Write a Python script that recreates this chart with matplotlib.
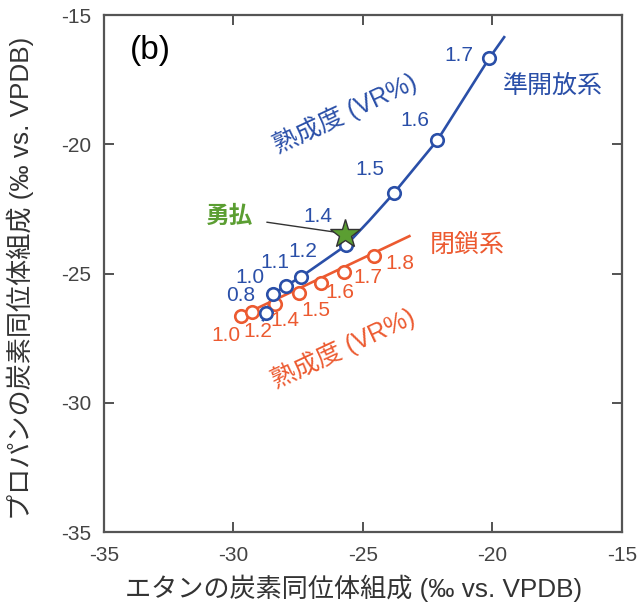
import numpy as np
import matplotlib.pyplot as plt

plt.rcParams['font.family'] = ['Liberation Sans', 'Noto Sans CJK JP', 'DejaVu Sans']
plt.rcParams['axes.unicode_minus'] = False

BLUE = '#2a4fa8'
ORANGE = '#ec5a30'
GREEN = '#5b9e32'

# semi-open system (準開放系)
semi_vr = ['0.8', '1.0', '1.1', '1.2', '1.4', '1.5', '1.6', '1.7']
semi_x = [-28.73, -28.46, -27.96, -27.38, -25.65, -23.81, -22.12, -20.12]
semi_y = [-26.51, -25.78, -25.47, -25.12, -23.91, -21.90, -19.84, -16.67]
# curve drawn through the points, with its ends beyond the first and last point
semi_line_x = [-28.85, -28.73, -28.46, -27.96, -27.38, -25.65, -24.75, -23.81, -22.12, -20.12, -19.54]
semi_line_y = [-26.80, -26.51, -25.78, -25.47, -25.12, -23.91, -22.95, -21.90, -19.84, -16.67, -15.85]

# closed system (閉鎖系)
closed_vr = ['1.0', '1.2', '1.4', '1.5', '1.6', '1.7', '1.8']
closed_x = [-29.69, -29.27, -28.38, -27.46, -26.62, -25.73, -24.58]
closed_y = [-26.63, -26.47, -26.16, -25.74, -25.35, -24.92, -24.30]
closed_line_x = [-29.69, -23.20]
closed_line_y = [-26.63, -23.55]

# Yufutsu gas (勇払)
yufutsu_x = [-25.69]
yufutsu_y = [-23.45]

# label offsets in points (dx, dy)
semi_off = [(-18, 12), (-17, 12), (-8, 17), (1, 18), (-20, 21), (-17, 17), (-16, 14), (-22, 2)]
closed_off = [(-11, -14), (4, -14), (7, -12), (12, -13), (14, -7), (17, -4), (19, -6)]

fig = plt.figure(figsize=(6.37, 6.08), dpi=100)
ax = fig.add_axes([0.163, 0.125, 0.813, 0.850])

ax.plot(semi_line_x, semi_line_y, color=BLUE, lw=1.9, zorder=2)
ax.plot(semi_x, semi_y, 'o', ms=9, mfc='white', mec=BLUE, mew=1.9, zorder=3)
ax.plot(closed_line_x, closed_line_y, color=ORANGE, lw=1.9, zorder=1)
ax.plot(closed_x, closed_y, 'o', ms=9, mfc='white', mec=ORANGE, mew=1.9, zorder=2)
ax.plot(yufutsu_x, yufutsu_y, '*', ms=22, mfc=GREEN, mec='#333333', mew=1.0, zorder=5)

for lab, x, y, off in zip(semi_vr, semi_x, semi_y, semi_off):
    ax.annotate(lab, (x, y), xytext=off, textcoords='offset points',
                color=BLUE, fontsize=15, ha='center', va='center')
for lab, x, y, off in zip(closed_vr, closed_x, closed_y, closed_off):
    ax.annotate(lab, (x, y), xytext=off, textcoords='offset points',
                color=ORANGE, fontsize=15, ha='center', va='center')

ax.annotate('勇払', (yufutsu_x[0], yufutsu_y[0]), xytext=(-30.15, -22.8),
            color=GREEN, fontsize=17, fontweight='bold', ha='center', va='center',
            arrowprops=dict(arrowstyle='-', color='#333333', lw=1.0, shrinkA=8, shrinkB=6))

ax.text(-25.7, -18.8, '熟成度 (VR%)', color=BLUE, fontsize=18, rotation=25,
        ha='center', va='center')
ax.text(-25.75, -27.9, '熟成度 (VR%)', color=ORANGE, fontsize=18, rotation=25,
        ha='center', va='center')
ax.text(-17.7, -17.75, '準開放系', color=BLUE, fontsize=18, ha='center', va='center')
ax.text(-20.96, -23.9, '閉鎖系', color=ORANGE, fontsize=18, ha='center', va='center')
ax.text(-33.2, -16.35, '(b)', fontsize=24, ha='center', va='center')

ax.set_xlim(-35, -15)
ax.set_ylim(-35, -15)
ax.set_xticks([-35, -30, -25, -20, -15])
ax.set_yticks([-35, -30, -25, -20, -15])
ax.tick_params(direction='in', top=True, right=True, length=7, width=1.3,
               labelsize=15, colors='#444444')
ax.tick_params(axis='x', pad=10)
ax.tick_params(axis='y', pad=9)
for s in ax.spines.values():
    s.set_linewidth(1.6)
    s.set_color('#555555')

ax.set_xlabel('エタンの炭素同位体組成 (‰ vs. VPDB)', fontsize=18.8, color='#333333')
ax.set_ylabel('プロパンの炭素同位体組成 (‰ vs. VPDB)', fontsize=18.8, color='#333333')
ax.xaxis.set_label_coords(0.483, -0.083)
ax.yaxis.set_label_coords(-0.135, 0.49)

fig.savefig('out.png', dpi=100)
